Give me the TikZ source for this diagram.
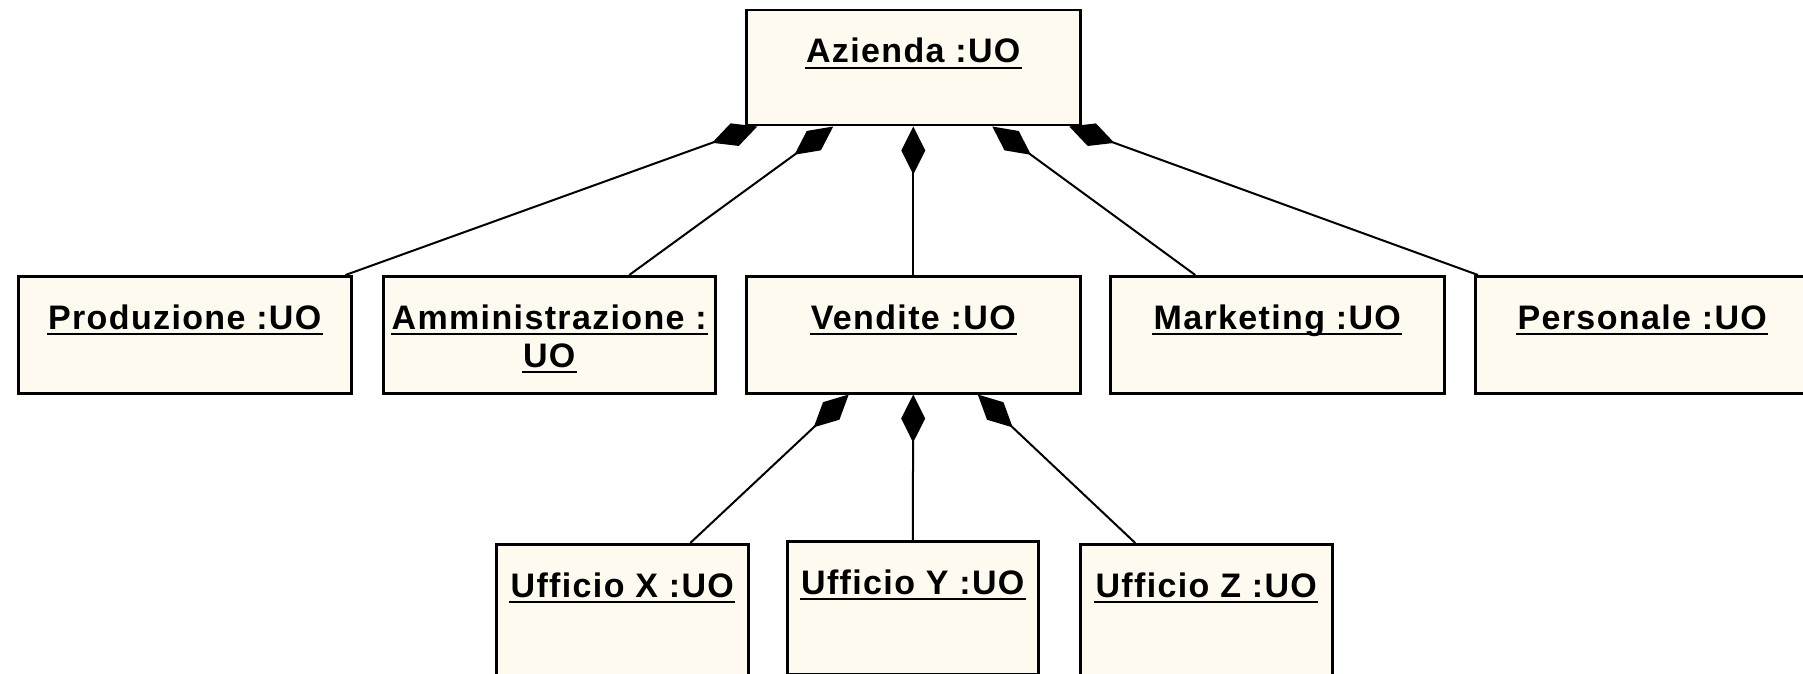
\documentclass[tikz,border=0pt]{standalone}
\usepackage{fontspec}
\setmainfont{Liberation Sans}[LetterSpace=4]
\usetikzlibrary{arrows.meta,calc}
\definecolor{boxfill}{HTML}{FFFAF0}
\pgfdeclarelayer{background}
\pgfsetlayers{background,main}
\begin{document}
\begin{tikzpicture}[x=1pt,y=-1pt,
  uobox/.style={draw=black, line width=2.5pt, fill=boxfill, anchor=north west, inner sep=0pt},
  uotext/.style={anchor=base, inner sep=0pt, font=\fontsize{34}{38}\selectfont\bfseries},
  uline/.style={line width=2.6pt},
  conn/.style={line width=2pt, -{Diamond[length=48pt,width=24pt]}}]
\useasboundingbox (0,0) rectangle (1803,674);
% boxes
\node[uobox, minimum width=334pt, minimum height=115pt] (az) at (745,9) {};
\node[uobox, minimum width=333pt, minimum height=117pt] (prod) at (17,275) {};
\node[uobox, minimum width=332pt, minimum height=117pt] (amm) at (382,275) {};
\node[uobox, minimum width=334pt, minimum height=117pt] (ven) at (745,275) {};
\node[uobox, minimum width=334pt, minimum height=117pt] (mkt) at (1109,275) {};
\node[uobox, minimum width=334pt, minimum height=117pt] (pers) at (1474,275) {};
\node[uobox, minimum width=252pt, minimum height=200pt] (ux) at (495,543) {};
\node[uobox, minimum width=251pt, minimum height=133pt] (uy) at (786,540) {};
\node[uobox, minimum width=252pt, minimum height=200pt] (uz) at (1079,543) {};
% texts
\node[uotext] (azt) at ($(az.north)+(0,54)$) {Azienda :UO};
\node[uotext] (prodt) at ($(prod.north)+(0,54)$) {Produzione :UO};
\node[uotext] (ammt) at ($(amm.north)+(0,54)$) {Amministrazione :};
\node[uotext] (ammt2) at ($(amm.north)+(0,92)$) {UO};
\node[uotext] (vent) at ($(ven.north)+(0,54)$) {Vendite :UO};
\node[uotext] (mktt) at ($(mkt.north)+(0,54)$) {Marketing :UO};
\node[uotext] (perst) at ($(pers.north)+(0,54)$) {Personale :UO};
\node[uotext] (uxt) at ($(ux.north)+(0,54)$) {Ufficio X :UO};
\node[uotext] (uyt) at ($(uy.north)+(0,54)$) {Ufficio Y :UO};
\node[uotext] (uzt) at ($(uz.north)+(0,54)$) {Ufficio Z :UO};
% underlines
\foreach \t in {azt,prodt,ammt,ammt2,vent,mktt,perst,uxt,uyt,uzt}
  \draw[uline] ($(\t.base west)+(-1,5)$) -- ($(\t.base east)+(1,5)$);
% connectors
\begin{pgfonlayer}{background}
\draw[conn] ($(prod.north east)+(-7,0)$) -- ($(az.south)+(-156,0)$);
\draw[conn] ($(amm.north)+(80,0)$) -- ($(az.south)+(-80,0)$);
\draw[conn] (ven.north) -- (az.south);
\draw[conn] ($(mkt.north)+(-82,0)$) -- ($(az.south)+(79,0)$);
\draw[conn] ($(pers.north west)+(4,0)$) -- ($(az.south)+(156,0)$);
\draw[conn] ($(ux.north)+(68,0)$) -- ($(ven.south)+(-64.5,0)$);
\draw[conn] (uy.north) -- (ven.south);
\draw[conn] ($(uz.north)+(-71,0)$) -- ($(ven.south)+(64.5,0)$);
\end{pgfonlayer}
\end{tikzpicture}
\end{document}
